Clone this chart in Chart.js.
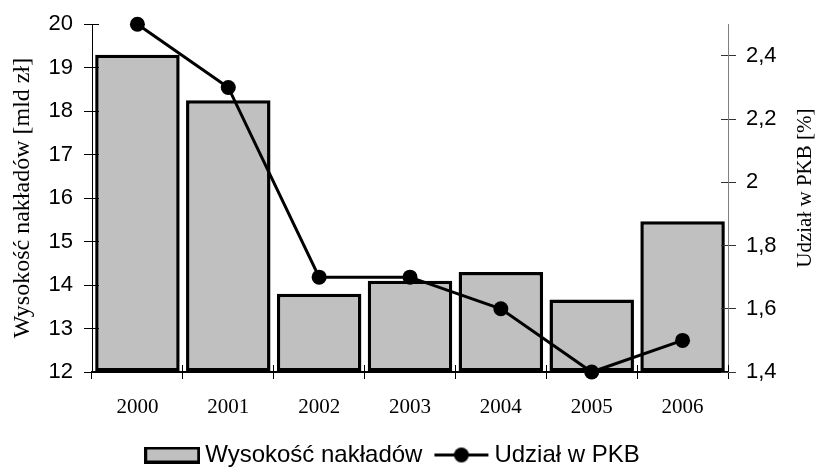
<!DOCTYPE html>
<html>
<head>
<meta charset="utf-8">
<script src="https://cdn.jsdelivr.net/npm/chart.js@4.4.1/dist/chart.umd.min.js"></script>
<style>
html,body{margin:0;padding:0;background:#fff;}
#wrap{width:817px;height:468px;position:relative;}
</style>
</head>
<body>
<div id="wrap"><canvas id="c" width="817" height="468"></canvas></div>
<script>
// ---- data ----
const years = ['2000', '2001', '2002', '2003', '2004', '2005', '2006'];
const nakladyValues = [19.3, 18.25, 13.8, 14.1, 14.3, 13.67, 15.47];
const udzialValues = [2.5, 2.3, 1.7, 1.7, 1.6, 1.4, 1.5];
const leftAxisRange = [12, 20];
const leftAxisStep = 1;
const rightAxisRange = [1.4, 2.5];
const rightAxisStep = 0.2;
const seriesNames = ['Wysokość nakładów', 'Udział w PKB'];
const leftAxisTitle = 'Wysokość nakładów [mld zł]';
const rightAxisTitle = 'Udział w PKB [%]';

const SANS = '"Liberation Sans", Arial, sans-serif';
const SERIF = '"Liberation Serif", "Times New Roman", serif';

function fmtComma(v) {
  const r = Math.round(v * 10) / 10;
  return String(r).replace('.', ',');
}

// legend swatches
function makeBarSwatch() {
  const c = document.createElement('canvas');
  c.width = 56; c.height = 17;
  const g = c.getContext('2d');
  g.fillStyle = '#c0c0c0';
  g.fillRect(1.5, 1.5, 53, 14);
  g.lineWidth = 3; g.strokeStyle = '#000';
  g.strokeRect(1.5, 1.5, 53, 14);
  return c;
}
function makeLineSwatch() {
  const c = document.createElement('canvas');
  c.width = 56; c.height = 17;
  const g = c.getContext('2d');
  g.strokeStyle = '#000'; g.lineWidth = 3;
  g.beginPath(); g.moveTo(1, 8.5); g.lineTo(55, 8.5); g.stroke();
  g.fillStyle = '#000';
  g.beginPath(); g.arc(28, 8.5, 7.5, 0, Math.PI * 2); g.fill();
  return c;
}
const barSwatch = makeBarSwatch();
const lineSwatch = makeLineSwatch();

function align(p) { return Math.round(p - 0.5) + 0.5; }

const innerTicks = {
  id: 'innerTicks',
  afterDatasetsDraw(chart) {
    const { ctx, chartArea: a, scales } = chart;
    ctx.save();
    ctx.lineWidth = 1;
    ctx.strokeStyle = '#000';
    scales.y.ticks.forEach(t => {
      const y = align(scales.y.getPixelForValue(t.value));
      ctx.beginPath(); ctx.moveTo(a.left, y); ctx.lineTo(a.left + 7, y); ctx.stroke();
    });
    ctx.strokeStyle = '#333';
    scales.y1.ticks.forEach(t => {
      const y = align(scales.y1.getPixelForValue(t.value));
      ctx.beginPath(); ctx.moveTo(a.right - 7, y); ctx.lineTo(a.right, y); ctx.stroke();
    });
    ctx.strokeStyle = '#000';
    for (let i = 0; i <= years.length; i++) {
      const x = align(scales.x.getPixelForValue(i - 0.5));
      ctx.beginPath(); ctx.moveTo(x, a.bottom); ctx.lineTo(x, a.bottom - 7); ctx.stroke();
    }
    ctx.restore();
  }
};

const rightTitle = {
  id: 'rightTitle',
  afterDraw(chart) {
    const s = chart.scales.y1;
    const a = chart.chartArea;
    const ctx = chart.ctx;
    ctx.save();
    ctx.font = '21px ' + SERIF;
    ctx.fillStyle = '#000';
    ctx.textAlign = 'center';
    ctx.textBaseline = 'middle';
    ctx.translate(s.right + 14, (a.top + a.bottom) / 2 - 10);
    ctx.rotate(-Math.PI / 2);
    ctx.fillText(rightAxisTitle, 0, 0);
    ctx.restore();
  }
};

const legendFit = {
  id: 'legendFit',
  afterInit(chart) {
    const lg = chart.legend;
    if (!lg) return;
    const orig = lg.fit.bind(lg);
    lg.fit = function () { orig(); this.height = 43; };
  }
};

new Chart(document.getElementById('c'), {
  type: 'bar',
  data: {
    labels: years,
    datasets: [
      {
        type: 'bar',
        label: seriesNames[0],
        data: nakladyValues,
        yAxisID: 'y',
        base: leftAxisRange[0],
        backgroundColor: '#c0c0c0',
        borderColor: '#000',
        borderWidth: 3.5,
        borderSkipped: false,
        barPercentage: 0.93,
        categoryPercentage: 1,
        order: 1
      },
      {
        type: 'line',
        label: seriesNames[1],
        data: udzialValues,
        yAxisID: 'y1',
        borderColor: '#000',
        borderWidth: 3,
        pointRadius: 7.5,
        pointHoverRadius: 7.5,
        pointBackgroundColor: '#000',
        pointBorderWidth: 0,
        tension: 0,
        clip: false,
        order: 0
      }
    ]
  },
  options: {
    responsive: false,
    animation: false,
    devicePixelRatio: 1,
    layout: { padding: { left: 0, right: 26, top: 23, bottom: 0 } },
    plugins: {
      tooltip: { enabled: false },
      legend: {
        position: 'bottom',
        labels: {
          usePointStyle: true,
          pointStyleWidth: 42,
          padding: 18,
          color: '#000',
          font: { family: SANS, size: 24 },
          sort: (a, b) => a.datasetIndex - b.datasetIndex,
          generateLabels() {
            return [
              { text: seriesNames[0], pointStyle: barSwatch, datasetIndex: 0, hidden: false, fillStyle: '#c0c0c0', strokeStyle: '#000', lineWidth: 0, fontColor: '#000' },
              { text: seriesNames[1], pointStyle: lineSwatch, datasetIndex: 1, hidden: false, fillStyle: '#000', strokeStyle: '#000', lineWidth: 0, fontColor: '#000' }
            ];
          }
        }
      }
    },
    scales: {
      x: {
        type: 'category',
        offset: true,
        grid: { offset: true, drawOnChartArea: false, drawTicks: true, tickLength: 7, color: '#000', tickColor: '#000' },
        border: { display: true, color: '#000', width: 2 },
        ticks: { color: '#000', font: { family: SERIF, size: 21 }, padding: 16, maxRotation: 0 },
        afterFit(s) { s.height = 53; }
      },
      y: {
        position: 'left',
        min: leftAxisRange[0],
        max: leftAxisRange[1],
        grid: { drawOnChartArea: false, drawTicks: true, tickLength: 8, tickColor: '#000' },
        border: { display: true, color: '#000', width: 1 },
        ticks: { stepSize: leftAxisStep, color: '#000', font: { family: SANS, size: 22 }, padding: 11 },
        title: { display: true, text: leftAxisTitle, color: '#000', font: { family: SERIF, size: 24 }, padding: { top: 8, bottom: 0 } },
        afterFit(s) { s.width = 92; }
      },
      y1: {
        position: 'right',
        min: rightAxisRange[0],
        max: rightAxisRange[1],
        bounds: 'data',
        grid: { drawOnChartArea: false, drawTicks: true, tickLength: 8, tickColor: '#333' },
        border: { display: true, color: '#808080', width: 1 },
        ticks: { stepSize: rightAxisStep, color: '#000', font: { family: SANS, size: 22 }, padding: 10, callback: (v) => fmtComma(v) },
        afterBuildTicks(s) {
          s.ticks = s.ticks.filter(t => {
            const k = (t.value - rightAxisRange[0]) / rightAxisStep;
            return Math.abs(k - Math.round(k)) < 1e-6;
          });
        },
        afterFit(s) { s.width = 63; }
      }
    }
  },
  plugins: [innerTicks, rightTitle, legendFit]
});
</script>
</body>
</html>
